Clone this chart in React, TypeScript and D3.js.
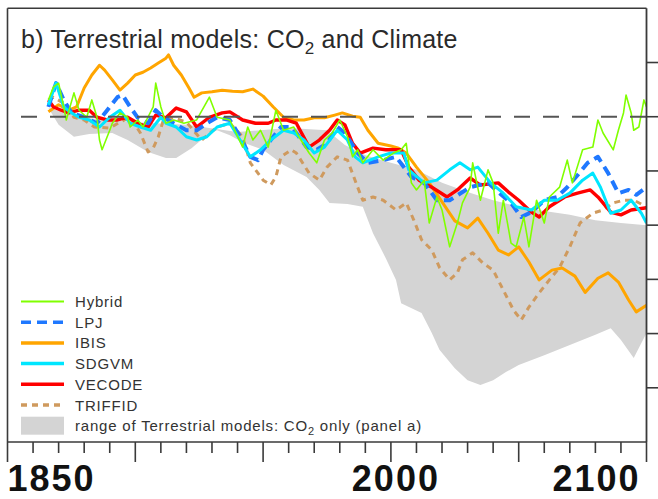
import React from "react";
import * as d3 from "d3";

const xTickYears = d3.range(1850, 2101, 10);
const xTickLabels = [1850, 2000, 2100];
const yTickValues = [-5, -4, -3, -2, -1, 0, 1];

const rangeUpper: [number, number][] = [
  [1866, 0.16], [1880, -0.02], [1900, -0.1], [1920, -0.15], [1940, -0.28], [1960, -0.21],
  [1975, -0.25], [1982, -0.52], [1990, -0.71], [2000, -0.85], [2010, -0.98], [2020, -1.22],
  [2030, -1.39], [2040, -1.54], [2050, -1.66], [2060, -1.74], [2070, -1.81], [2080, -1.91],
  [2090, -1.96], [2100, -2.0],
];
const rangeLower: [number, number][] = [
  [1866, 0.16], [1870, -0.15], [1876, -0.37], [1882, -0.32], [1891, -0.3], [1897, -0.43],
  [1905, -0.65], [1912, -0.76], [1916, -0.76], [1922, -0.58], [1928, -0.34], [1932, -0.25],
  [1937, -0.34], [1942, -0.47], [1950, -0.61], [1958, -0.89], [1967, -1.11], [1972, -1.35],
  [1976, -1.59], [1983, -1.61], [1989, -1.66], [1993, -2.15], [1998, -2.61], [2002, -3.01],
  [2004, -3.44], [2012, -3.62], [2016, -3.99], [2019, -4.3], [2025, -4.64], [2030, -4.86],
  [2035, -4.95], [2040, -4.86], [2045, -4.71], [2050, -4.58], [2060, -4.4], [2070, -4.21],
  [2080, -4.02], [2086, -3.9], [2090, -4.12], [2095, -4.45], [2100, -3.99],
];

const hybrid: [number, number][] = [
  [1866, 0.31], [1868, 0.55], [1870, 0.62], [1872, 0.18], [1873, -0.06], [1876, 0.44], [1878, 0.12],
  [1881, -0.01], [1883, 0.31], [1885, -0.01], [1886, -0.43], [1887, -0.61], [1890, -0.25], [1891, -0.12],
  [1894, 0.07], [1897, -0.01], [1898, -0.19], [1901, -0.06], [1903, -0.19], [1907, 0.18], [1908, 0.62],
  [1910, 0.18], [1912, -0.12], [1915, -0.06], [1919, -0.12], [1924, -0.06], [1929, 0.36], [1932, -0.01],
  [1937, -0.06], [1942, -0.56], [1944, -0.19], [1946, -0.43], [1949, -0.25], [1952, -0.56], [1955, 0.12],
  [1958, -0.25], [1962, -0.19], [1964, -0.37], [1968, -0.67], [1971, -0.85], [1974, -0.43], [1977, -0.3],
  [1980, -0.06], [1983, -0.37], [1985, -0.74], [1987, -0.61], [1989, -0.85], [1993, -0.61], [1997, -0.8],
  [2001, -0.67], [2004, -0.61], [2006, -0.49], [2008, -1.22], [2010, -1.35], [2013, -1.17], [2015, -1.96],
  [2018, -1.48], [2020, -1.72], [2023, -2.4], [2026, -1.96], [2028, -1.59], [2031, -1.3], [2032, -0.85],
  [2035, -1.54], [2038, -0.98], [2040, -1.22], [2042, -2.15], [2044, -1.54], [2047, -2.33], [2049, -2.4],
  [2052, -1.85], [2054, -2.4], [2057, -1.54], [2060, -1.96], [2062, -1.48], [2066, -1.3], [2069, -0.8],
  [2071, -1.22], [2075, -0.61], [2079, -0.56], [2081, -0.06], [2083, -0.3], [2087, -0.61], [2089, -0.25],
  [2091, 0.07], [2092, 0.4], [2094, 0.07], [2095, -0.25], [2097, -0.19], [2099, 0.31], [2100, 0.18],
];

const lpj: [number, number][] = [
  [1866, 0.18], [1869, 0.62], [1872, 0.31], [1875, 0.07], [1880, -0.01], [1885, -0.12], [1889, 0.12],
  [1893, 0.36], [1895, 0.4], [1898, 0.18], [1901, -0.02], [1905, -0.12], [1908, 0.12], [1911, -0.01],
  [1915, -0.12], [1920, -0.25], [1924, -0.25], [1928, -0.12], [1932, -0.01], [1937, -0.06], [1941, -0.37],
  [1945, -0.74], [1948, -0.8], [1950, -0.61], [1953, -0.43], [1957, -0.19], [1961, -0.19], [1963, -0.3],
  [1967, -0.56], [1971, -0.61], [1975, -0.49], [1979, -0.19], [1982, -0.3], [1987, -0.67], [1991, -0.85],
  [1997, -0.8], [2002, -0.74], [2008, -1.11], [2013, -1.22], [2018, -1.54], [2023, -1.54], [2031, -1.3],
  [2038, -1.22], [2042, -1.39], [2047, -1.59], [2051, -1.85], [2055, -1.76], [2060, -1.54], [2065, -1.48],
  [2069, -1.3], [2073, -1.08], [2077, -0.85], [2081, -0.74], [2085, -1.04], [2089, -1.41], [2093, -1.35],
  [2096, -1.44], [2100, -1.3],
];

const ibis: [number, number][] = [
  [1866, 0.09], [1870, 0.22], [1874, 0.12], [1877, 0.18], [1880, 0.53], [1883, 0.77], [1886, 0.95],
  [1888, 0.86], [1891, 0.68], [1894, 0.49], [1897, 0.62], [1900, 0.77], [1903, 0.82], [1906, 0.9],
  [1909, 0.99], [1912, 1.08], [1913, 1.14], [1915, 0.95], [1918, 0.77], [1921, 0.53], [1923, 0.36],
  [1926, 0.44], [1930, 0.46], [1934, 0.49], [1938, 0.47], [1942, 0.46], [1946, 0.51], [1950, 0.38],
  [1954, 0.18], [1958, -0.01], [1962, -0.06], [1966, -0.06], [1970, -0.02], [1974, -0.02], [1978, 0.03],
  [1981, 0.07], [1985, 0.01], [1988, -0.01], [1991, -0.25], [1995, -0.49], [2000, -0.54], [2003, -0.58],
  [2006, -0.67], [2010, -0.93], [2015, -1.22], [2020, -1.57], [2025, -1.92], [2030, -2.05], [2034, -1.87],
  [2038, -2.15], [2042, -2.46], [2046, -2.55], [2050, -2.4], [2054, -2.68], [2058, -3.01], [2063, -2.83],
  [2067, -2.79], [2072, -2.94], [2076, -3.24], [2081, -2.98], [2085, -2.88], [2089, -3.05], [2093, -3.38],
  [2096, -3.6], [2100, -3.48],
];

const sdgvm: [number, number][] = [
  [1866, 0.22], [1869, 0.62], [1872, 0.18], [1875, 0.07], [1878, -0.01], [1882, -0.06], [1886, -0.19],
  [1890, -0.01], [1894, 0.12], [1898, -0.12], [1902, -0.19], [1906, -0.25], [1910, -0.01], [1912, -0.12],
  [1916, -0.19], [1920, -0.37], [1924, -0.43], [1928, -0.37], [1932, -0.19], [1937, -0.12], [1941, -0.43],
  [1945, -0.74], [1949, -0.61], [1953, -0.43], [1958, -0.25], [1962, -0.3], [1966, -0.43], [1970, -0.67],
  [1974, -0.56], [1979, -0.25], [1983, -0.43], [1986, -0.74], [1989, -0.85], [1995, -0.74], [2000, -0.67],
  [2005, -0.67], [2007, -0.98], [2013, -1.22], [2018, -1.17], [2023, -0.98], [2027, -0.85], [2031, -0.98],
  [2034, -0.93], [2039, -1.22], [2044, -1.41], [2049, -1.66], [2055, -1.72], [2060, -1.54], [2065, -1.54],
  [2070, -1.41], [2075, -1.17], [2079, -1.04], [2082, -1.3], [2086, -1.78], [2090, -1.72], [2094, -1.54],
  [2098, -1.78], [2100, -1.96],
];

const vecode: [number, number][] = [
  [1866, 0.31], [1868, 0.18], [1871, 0.12], [1874, 0.07], [1878, 0.12], [1882, 0.12], [1885, -0.01],
  [1889, -0.06], [1893, -0.06], [1897, -0.01], [1901, -0.12], [1905, -0.19], [1908, 0.03], [1912, -0.02],
  [1916, 0.16], [1920, 0.09], [1924, -0.19], [1929, -0.01], [1934, 0.07], [1937, 0.09], [1942, -0.06],
  [1947, -0.12], [1952, -0.12], [1955, -0.06], [1959, -0.06], [1963, -0.12], [1968, -0.56], [1972, -0.43],
  [1976, -0.25], [1979, -0.06], [1982, -0.15], [1985, -0.49], [1988, -0.67], [1993, -0.58], [1998, -0.61],
  [2004, -0.61], [2007, -0.93], [2011, -1.17], [2016, -1.3], [2022, -1.48], [2026, -1.35], [2031, -1.13],
  [2035, -1.26], [2042, -1.22], [2046, -1.39], [2050, -1.54], [2055, -1.76], [2058, -1.85], [2062, -1.66],
  [2068, -1.48], [2073, -1.41], [2078, -1.35], [2081, -1.48], [2086, -1.76], [2090, -1.81], [2094, -1.72],
  [2100, -1.68],
];

const triffid: [number, number][] = [
  [1866, 0.31], [1868, 0.36], [1872, 0.25], [1876, -0.01], [1880, -0.06], [1884, -0.19], [1890, -0.21],
  [1894, -0.1], [1898, -0.01], [1902, -0.3], [1905, -0.65], [1907, -0.58], [1909, -0.37], [1911, -0.06],
  [1915, -0.02], [1920, -0.1], [1926, -0.43], [1932, -0.19], [1937, -0.12], [1942, -0.37], [1945, -0.85],
  [1950, -1.17], [1953, -1.26], [1955, -1.11], [1957, -0.74], [1961, -0.61], [1963, -0.67], [1968, -1.04],
  [1972, -1.17], [1975, -0.93], [1979, -0.74], [1983, -0.8], [1987, -1.3], [1989, -1.54], [1993, -1.48],
  [1997, -1.54], [2002, -1.72], [2006, -1.59], [2009, -1.91], [2012, -2.27], [2016, -2.46], [2019, -2.78],
  [2023, -3.01], [2026, -2.88], [2028, -2.64], [2032, -2.51], [2036, -2.7], [2040, -2.83], [2044, -3.2],
  [2048, -3.57], [2051, -3.75], [2054, -3.51], [2058, -3.25], [2062, -3.01], [2066, -2.78], [2070, -2.4],
  [2074, -1.96], [2079, -1.78], [2083, -1.72], [2087, -1.59], [2091, -1.54], [2095, -1.54], [2100, -1.66],
];

const seriesNames = ["Hybrid", "LPJ", "IBIS", "SDGVM", "VECODE", "TRIFFID"];
const seriesColors = ["#80ff00", "#1f78ff", "#ffa500", "#00e6ff", "#ff0000", "#cf9a5e"];
const seriesData = [hybrid, lpj, ibis, sdgvm, vecode, triffid];
const seriesWidth = [1.6, 4, 3, 3, 3.4, 3];
const seriesDash = [null, "10,6", null, null, null, "6,5"];
const drawOrder = [5, 2, 4, 1, 3, 0];

export default function App() {
  const W = 658, H = 499;
  const left = 7.5, right = 646.5, top = 8.3, bottom = 442;
  const x = d3.scaleLinear().domain([1850, 2100]).range([left, right]);
  const y = d3.scaleLinear().domain([-6, 2]).range([bottom, top]);
  const line = d3.line<[number, number]>().x((d) => x(d[0])).y((d) => y(d[1]));
  const rangePoly = line([...rangeUpper, ...rangeLower.slice().reverse()]) + "Z";
  const font = "'Liberation Sans', Arial, Helvetica, sans-serif";
  const legX0 = 21, legX1 = 64, legTextX = 75, legY0 = 301.5, legDy = 20.7;
  const axisColor = "#3a3a3a";

  return (
    <svg width={W} height={H} style={{ position: "absolute", left: 0, top: 0, background: "#fff" }}>
      <defs>
        <clipPath id="plot">
          <rect x={left} y={top} width={right - left} height={bottom - top} />
        </clipPath>
      </defs>
      <rect x={0} y={0} width={W} height={H} fill="#fff" />
      <g clipPath="url(#plot)">
        <path d={rangePoly} fill="#d4d4d4" stroke="none" />
        {drawOrder.map((i) => (
          <path
            key={seriesNames[i]}
            d={line(seriesData[i]) || ""}
            fill="none"
            stroke={seriesColors[i]}
            strokeWidth={seriesWidth[i]}
            strokeDasharray={seriesDash[i] || undefined}
            strokeLinejoin="round"
          />
        ))}
        <line x1={21} x2={right} y1={y(0)} y2={y(0)} stroke="#555" strokeWidth={2} strokeDasharray="16,13" />
      </g>
      {/* frame */}
      <line x1={left} x2={right} y1={top} y2={top} stroke={axisColor} strokeWidth={1.6} />
      <line x1={left} x2={right} y1={bottom} y2={bottom} stroke={axisColor} strokeWidth={1.6} />
      <line x1={left} x2={left} y1={top} y2={bottom} stroke={axisColor} strokeWidth={1.6} />
      <line x1={right} x2={right} y1={top} y2={bottom} stroke={axisColor} strokeWidth={1.8} />
      {/* x ticks */}
      {xTickYears.map((yr) => (
        <line key={yr} x1={x(yr)} x2={x(yr)} y1={bottom} y2={bottom + ((yr - 1850) % 50 === 0 ? 20 : 11)}
          stroke={axisColor} strokeWidth={1.6} />
      ))}
      {xTickLabels.map((yr, i) => {
        const anchor = i === 0 ? "start" : i === xTickLabels.length - 1 ? "end" : "middle";
        const dx = anchor === "start" ? 0 : anchor === "end" ? -6 : 5;
        return (
          <text key={yr} x={x(yr) + dx} y={491} textAnchor={anchor} fontFamily={font} fontWeight="bold"
            fontSize={36} letterSpacing={2} fill="#111">{yr}</text>
        );
      })}
      {/* right ticks */}
      {yTickValues.map((v) => (
        <line key={v} x1={right} x2={W + 2} y1={y(v)} y2={y(v)} stroke={axisColor} strokeWidth={1.6} />
      ))}
      {/* title */}
      <text x={21} y={48} fontFamily={font} fontSize={25} letterSpacing={0.25} fill="#2a2a2a">
        b) Terrestrial models: CO<tspan fontSize={17} dy={6}>2</tspan><tspan dy={-6}> and Climate</tspan>
      </text>
      {/* legend */}
      {seriesNames.map((name, i) => {
        const ly = legY0 + i * legDy;
        return (
          <g key={name}>
            <line x1={legX0} x2={legX1} y1={ly} y2={ly} stroke={seriesColors[i]}
              strokeWidth={i === 0 ? 2 : 3.5} strokeDasharray={seriesDash[i] ? (i === 1 ? "10,6" : "6,5") : undefined} />
            <text x={legTextX} y={ly + 5.5} fontFamily={font} fontSize={15} letterSpacing={0.8} fill="#333">{name}</text>
          </g>
        );
      })}
      {(() => {
        const ly = legY0 + 6 * legDy;
        return (
          <g>
            <rect x={legX0} y={ly - 9} width={legX1 - legX0} height={18} fill="#d4d4d4" />
            <text x={legTextX} y={ly + 5.5} fontFamily={font} fontSize={15} letterSpacing={0.8} fill="#333">
              range of Terrestrial models: CO<tspan fontSize={11} dy={4}>2</tspan><tspan dy={-4}> only (panel a)</tspan>
            </text>
          </g>
        );
      })()}
    </svg>
  );
}
